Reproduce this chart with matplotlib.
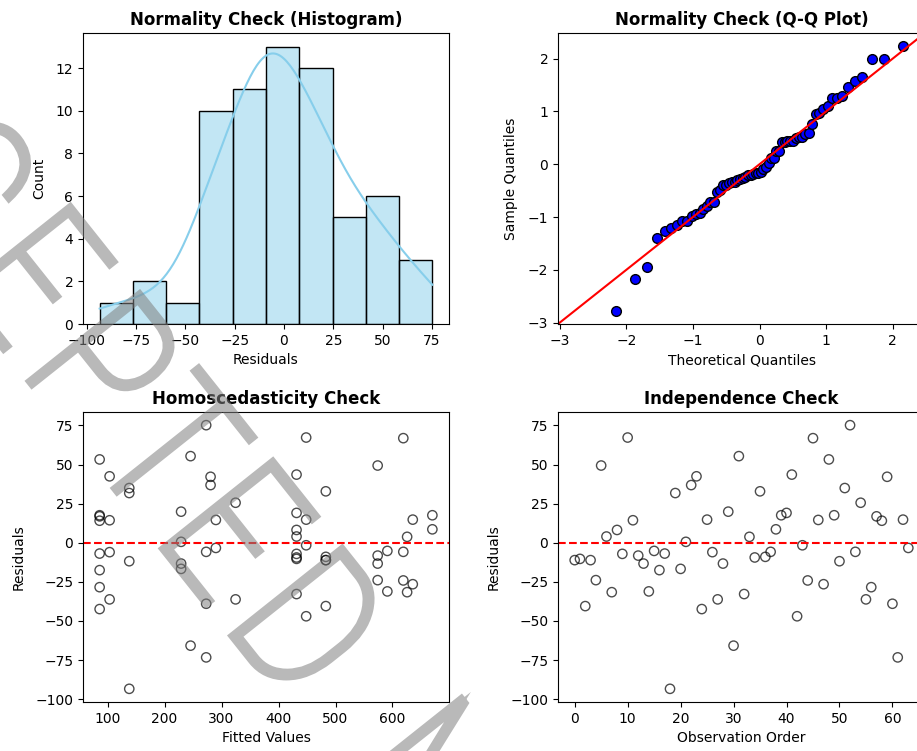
import numpy as np
import matplotlib
matplotlib.use("Agg")
import matplotlib.pyplot as plt
from matplotlib.colors import to_rgba
from matplotlib.textpath import TextPath
from matplotlib.patches import PathPatch
from matplotlib.path import Path
from matplotlib.font_manager import FontProperties
from matplotlib.transforms import Affine2D, IdentityTransform
from statistics import NormalDist

# residuals in observation order
residuals = [-11.1, -10.3, -40.5, -11.1, -23.9, 49.4, 4.0, -31.6, 8.2, -7.1,
             67.3, 14.4, -8.2, -13.3, -31.1, -5.2, -17.5, -6.9, -93.4, 31.8,
             -16.7, 0.6, 36.9, 42.5, -42.4, 14.8, -6.0, -36.2, -13.3, 19.9,
             -65.8, 55.4, -32.8, 3.8, -9.4, 32.9, -9.0, -5.8, 8.6, 17.6,
             19.1, 43.6, -47.0, -1.6, -24.1, 66.9, 14.6, -26.5, 53.3, 17.6,
             -11.8, 35.0, 75.2, -5.8, 25.6, -36.2, -28.4, 16.9, 14.1, 42.2,
             -39.0, -73.3, 14.8, -3.3]

# fitted value for each observation
fitted = [483, 431.6, 483, 483, 574, 574, 431.6, 625.7, 431.6, 431.6,
          448.5, 103.5, 574, 229, 591, 591, 86, 86, 138, 138,
          229, 229, 280.7, 103.5, 86, 448.5, 103.5, 103.5, 574, 229,
          245.6, 245.6, 431.6, 625.7, 431.6, 483, 483, 273, 670, 86,
          431.6, 431.6, 448.5, 448.5, 619, 619, 290, 635.6, 86, 670,
          138, 138, 273, 619, 324.6, 324.6, 86, 86, 86, 280.7,
          273, 273, 635.6, 290]

watermark = "ACCEPTED MANUSCRIPT"
# letter advance widths (em units) used to space the watermark
advance = {"A": 0.684, "C": 0.698, "E": 0.632, "P": 0.603, "T": 0.611,
           "D": 0.770, " ": 0.318, "M": 0.863, "N": 0.748, "U": 0.732,
           "S": 0.635, "R": 0.695, "I": 0.295}

resid = np.array(residuals)
fit = np.array(fitted)
n = len(resid)

fig = plt.figure(figsize=(9.17, 7.51), dpi=100)
W, H = 917, 751

def rect(x0, y0, x1, y1):
    return [x0 / W, 1 - y1 / H, (x1 - x0) / W, (y1 - y0) / H]

ax1 = fig.add_axes(rect(83, 33, 449, 324))
ax2 = fig.add_axes(rect(558, 33, 925, 324))
ax3 = fig.add_axes(rect(83, 412, 449, 702))
ax4 = fig.add_axes(rect(558, 412, 925, 702))

# --- histogram + kde
edges = np.linspace(resid.min(), resid.max(), 11)
ax1.hist(resid, bins=edges, facecolor=to_rgba("skyblue", 0.5),
         edgecolor="black", linewidth=1)
grid = np.linspace(resid.min(), resid.max(), 200)
bw = resid.std(ddof=1) * n ** (-0.2)
dens = np.exp(-0.5 * ((grid[:, None] - resid[None, :]) / bw) ** 2).sum(1)
dens = dens / (n * bw * np.sqrt(2 * np.pi))
ax1.plot(grid, dens * n * (edges[1] - edges[0]), color="skyblue", lw=1.5)
ax1.set_title("Normality Check (Histogram)", fontweight="bold")
ax1.set_xlabel("Residuals")
ax1.set_ylabel("Count", labelpad=7)

# --- Q-Q plot
z = np.sort((resid - resid.mean()) / resid.std())
nd = NormalDist()
theo = np.array([nd.inv_cdf(i / (n + 1)) for i in range(1, n + 1)])
ax2.plot(theo, z, "o", markerfacecolor="blue", markeredgecolor="black",
         markersize=7, markeredgewidth=1)
xl, yl = ax2.get_xlim(), ax2.get_ylim()
lo, hi = min(xl[0], yl[0]), max(xl[1], yl[1])
ax2.plot([lo, hi], [lo, hi], color="red", lw=1.5)
ax2.set_xlim(lo, hi)
ax2.set_ylim(lo, hi)
ax2.set_title("Normality Check (Q-Q Plot)", fontweight="bold")
ax2.set_xlabel("Theoretical Quantiles")
ax2.set_ylabel("Sample Quantiles", labelpad=7)

# --- homoscedasticity
ax3.scatter(fit, resid, facecolors="none", edgecolors="black", alpha=0.7, s=45)
ax3.axhline(0, color="red", linestyle="--", lw=1.5)
ax3.set_title("Homoscedasticity Check", fontweight="bold")
ax3.set_xlabel("Fitted Values")
ax3.set_ylabel("Residuals", labelpad=7)

# --- independence
ax4.scatter(np.arange(n), resid, facecolors="none", edgecolors="black", alpha=0.7, s=45)
ax4.axhline(0, color="red", linestyle="--", lw=1.5)
ax4.set_title("Independence Check", fontweight="bold")
ax4.set_xlabel("Observation Order")
ax4.set_ylabel("Residuals", labelpad=7)

# watermark: light glyphs, thickened with a stroke, rotated, in pixel space
prop = FontProperties(family=["Roboto", "Lato", "DejaVu Sans"], weight="light")
em = 198
pen = 0.0
glyphs = []
for ch in watermark:
    if ch != " ":
        tp = TextPath((0, 0), ch, size=em, prop=prop)
        tr = (Affine2D().scale(0.82, 1).translate(pen, 0)
              .rotate_deg(-51.5).translate(-278, 756))
        glyphs.append(tr.transform_path(tp))
    pen += advance[ch] * em * 0.89

def fade(img, dpi):
    img = img.copy()
    img[..., 3] *= 0.55
    return img, 0, 0

wm = PathPatch(Path.make_compound_path(*glyphs), facecolor="gray",
               edgecolor="gray", linewidth=5, joinstyle="miter",
               transform=IdentityTransform(), zorder=10)
wm.set_agg_filter(fade)
fig.add_artist(wm)

fig.savefig("out.png", dpi=100)
